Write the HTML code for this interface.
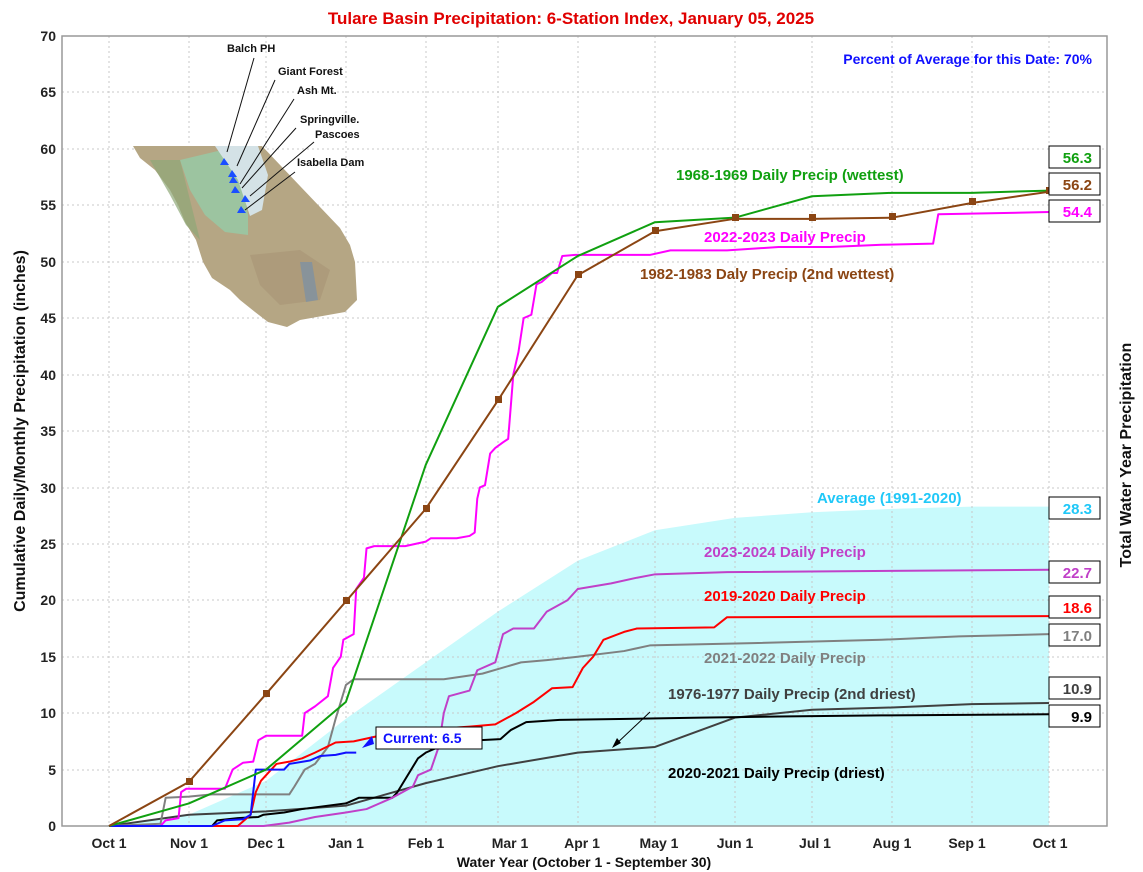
<!DOCTYPE html>
<html><head><meta charset="utf-8"><style>
body{margin:0;background:#fff}
svg{display:block;font-family:"Liberation Sans",Arial,sans-serif;font-weight:bold}
</style></head><body>
<svg width="1143" height="872" viewBox="0 0 1143 872" xmlns="http://www.w3.org/2000/svg">
<rect width="1143" height="872" fill="#fff"/>
<text x="571" y="24" text-anchor="middle" font-size="17" fill="#e00000">Tulare Basin Precipitation: 6-Station Index, January 05, 2025</text>
<g transform="translate(109,826) scale(2.5753,-11.286)">
<polygon fill="#c8fafc" points="0,0 31,1 61,4 92,9.5 123,14.5 151,19 182,23.5 212,26.2 243,27.3 273,27.8 304,28.1 335,28.3 365,28.3 365,0"/>
</g>
<g stroke="#c8c8c8" stroke-dasharray="2,3" stroke-width="1">
<line x1="62" x2="1107" y1="770" y2="770"/><line x1="62" x2="1107" y1="713" y2="713"/><line x1="62" x2="1107" y1="657" y2="657"/><line x1="62" x2="1107" y1="600" y2="600"/><line x1="62" x2="1107" y1="544" y2="544"/><line x1="62" x2="1107" y1="488" y2="488"/><line x1="62" x2="1107" y1="431" y2="431"/><line x1="62" x2="1107" y1="375" y2="375"/><line x1="62" x2="1107" y1="318" y2="318"/><line x1="62" x2="1107" y1="262" y2="262"/><line x1="62" x2="1107" y1="205" y2="205"/><line x1="62" x2="1107" y1="149" y2="149"/><line x1="62" x2="1107" y1="92" y2="92"/>
<line y1="36" y2="826" x1="109" x2="109"/><line y1="36" y2="826" x1="189" x2="189"/><line y1="36" y2="826" x1="266" x2="266"/><line y1="36" y2="826" x1="346" x2="346"/><line y1="36" y2="826" x1="426" x2="426"/><line y1="36" y2="826" x1="498" x2="498"/><line y1="36" y2="826" x1="578" x2="578"/><line y1="36" y2="826" x1="655" x2="655"/><line y1="36" y2="826" x1="735" x2="735"/><line y1="36" y2="826" x1="812" x2="812"/><line y1="36" y2="826" x1="892" x2="892"/><line y1="36" y2="826" x1="972" x2="972"/><line y1="36" y2="826" x1="1049" x2="1049"/>
</g>
<rect x="62" y="36" width="1045" height="790" fill="none" stroke="#999" stroke-width="1.5"/>
<!-- map -->
<g>
<polygon points="133,146 262,146 300,186 340,228 350,245 355,262 357,300 345,312 300,320 287,327 268,322 255,312 240,300 230,290 212,278 203,262 196,240 185,222 178,205 170,190 155,170 140,158" fill="#b5a684"/>
<polygon points="180,160 222,150 240,175 248,215 248,235 225,232 205,215 190,190" fill="#9cc4a0"/>
<polygon points="215,146 258,146 268,175 262,210 250,216 238,180" fill="#d4e2e6"/>
<polygon points="150,160 180,160 190,200 200,240 186,225 170,195" fill="#8fa878" opacity="0.7"/>
<polygon points="250,255 300,250 330,270 320,300 280,305 260,285" fill="#a89474" opacity="0.6"/>
<polygon points="300,262 312,262 318,300 306,302" fill="#7890a8" opacity="0.7"/>
</g>
<g font-size="11" fill="#111">
<text x="227" y="52">Balch PH</text><text x="278" y="75">Giant Forest</text><text x="297" y="94">Ash Mt.</text>
<text x="300" y="123">Springville.</text><text x="315" y="138">Pascoes</text><text x="297" y="166">Isabella Dam</text>
</g>
<g stroke="#111" stroke-width="1">
<line x1="254" y1="58" x2="227" y2="152"/><line x1="275" y1="80" x2="237" y2="166"/><line x1="294" y1="99" x2="240" y2="184"/>
<line x1="296" y1="128" x2="242" y2="188"/><line x1="314" y1="142" x2="250" y2="196"/><line x1="295" y1="172" x2="245" y2="210"/>
</g>
<g fill="#1a4fff">
<polygon points="224,158 220,165 229,165"/><polygon points="232,170 228,177 237,177"/><polygon points="233,176 229,183 238,183"/>
<polygon points="235,186 231,193 240,193"/><polygon points="245,195 241,202 250,202"/><polygon points="241,206 237,213 246,213"/>
</g>
<g transform="translate(109,826) scale(2.5753,-11.286)" fill="none" stroke-width="2" stroke-linejoin="round">
<polyline vector-effect="non-scaling-stroke" stroke="#404040" points="0,0 31,1 61,1.3 92,1.8 123,3.8 151,5.3 182,6.5 212,7 243,9.6 273,10.3 304,10.5 335,10.8 365,10.9"/>
<polyline vector-effect="non-scaling-stroke" stroke="#000" points="0,0 40,0 42,0.5 50,0.7 58,0.8 60,1 68,1.2 75,1.5 85,1.8 92,2 97,2.5 110,2.5 112,3 120,6 123,6.5 128,7 135,7.5 152,7.7 156,8.5 162,9.2 175,9.4 230,9.6 260,9.7 300,9.8 365,9.9"/>
<polyline vector-effect="non-scaling-stroke" stroke="#808080" points="0,0 20,0.2 22,2.5 31,2.6 40,2.8 70,2.8 72,3.5 76,5 80,5.5 85,7 88,9.5 90,11 92,12.5 95,13 130,13 145,13.5 160,14.5 170,14.7 182,15 200,15.5 210,16 250,16.2 300,16.5 330,16.8 365,17"/>
<polyline vector-effect="non-scaling-stroke" stroke="#c040c8" points="0,0 60,0 70,0.3 80,0.8 92,1.2 100,1.5 110,2.5 118,3.5 120,4.5 125,5 128,7 130,10 132,11.5 140,12 143,13.8 150,14.5 153,17 157,17.5 165,17.5 170,19 178,20 182,21 195,21.5 205,22 212,22.3 240,22.5 365,22.7"/>
<polyline vector-effect="non-scaling-stroke" stroke="#ff0000" points="0,0 50,0 55,1 57,3 59,4 61,4.5 65,5.5 70,5.7 75,6 80,6.5 88,7.4 95,7.5 105,8 120,8.5 140,8.8 150,9 158,10 165,11 172,12.2 180,12.3 184,14 188,15 192,16.5 200,17.2 205,17.5 235,17.6 240,18.5 365,18.6"/>
<polyline vector-effect="non-scaling-stroke" stroke="#ff00ff" points="0,0 20,0 22,0.5 27,0.7 28,3 30,3.3 45,3.3 48,5 52,5.6 56,5.7 58,7.6 61,8 75,8 76,10 80,10.6 85,11.5 87,14 90,15 91,16.5 95,17 96,21 99,22 100,24.6 103,24.8 115,24.8 123,25.2 125,25.5 135,25.5 140,25.7 142,26 143,29 144,30 146,30.2 148,33 150,33.5 153,34 155,34.3 157,40 159,42 161,45 164,45.3 166,48 168,48.2 172,49 174,49 176,50.5 181,50.6 210,50.6 218,51 240,51 260,51.3 280,51.3 300,51.5 320,51.6 322,54.2 365,54.4"/>
<polyline vector-effect="non-scaling-stroke" stroke="#1010ff" points="0,0 40,0 45,0.5 52,0.6 55,1 57,5 68,5 70,5.5 78,5.8 82,6.2 88,6.3 92,6.5 96,6.5"/>
<polyline vector-effect="non-scaling-stroke" stroke="#10a010" points="0,0 31,2 61,5 92,11 123,32 151,46 182,50.5 212,53.5 243,53.9 273,55.8 304,56.1 335,56.1 365,56.3"/>
<polyline vector-effect="non-scaling-stroke" stroke="#8b4513" points="0,0 31,3.9 61,11.7 92,19.9 123,28.1 151,37.7 182,48.8 212,52.7 243,53.8 273,53.8 304,53.9 335,55.2 365,56.2"/>
</g>
<g fill="#8b4513">
<rect x="186" y="778" width="7" height="7"/><rect x="263" y="690" width="7" height="7"/><rect x="343" y="597" width="7" height="7"/><rect x="423" y="505" width="7" height="7"/><rect x="495" y="396" width="7" height="7"/><rect x="575" y="271" width="7" height="7"/><rect x="652" y="227" width="7" height="7"/><rect x="732" y="214" width="7" height="7"/><rect x="809" y="214" width="7" height="7"/><rect x="889" y="213" width="7" height="7"/><rect x="969" y="198" width="7" height="7"/><rect x="1046" y="187" width="7" height="7"/>
</g>
<polygon points="362,748 372,736 374,744" fill="#1010ff"/>
<rect x="376" y="727" width="106" height="22" fill="#fff" stroke="#000"/>
<text x="383" y="743" font-size="14" fill="#1010ff">Current: 6.5</text>
<line x1="650" y1="712" x2="614" y2="746" stroke="#000"/><polygon points="612,748 617,738 621,743" fill="#000"/>
<g font-size="15">
<text x="676" y="180" fill="#10a010">1968-1969 Daily Precip (wettest)</text>
<text x="704" y="242" fill="#ff00ff">2022-2023 Daily Precip</text>
<text x="640" y="279" fill="#8b4513">1982-1983 Daly Precip (2nd wettest)</text>
<text x="817" y="503" fill="#20c8f8">Average (1991-2020)</text>
<text x="704" y="557" fill="#c040c8">2023-2024 Daily Precip</text>
<text x="704" y="601" fill="#ff0000">2019-2020 Daily Precip</text>
<text x="704" y="663" fill="#808080">2021-2022 Daily Precip</text>
<text x="668" y="699" fill="#404040">1976-1977 Daily Precip (2nd driest)</text>
<text x="668" y="778" fill="#000">2020-2021 Daily Precip (driest)</text>
</g>
<text x="1092" y="64" text-anchor="end" font-size="14" fill="#1010ff">Percent of Average for this Date: 70%</text>
<g font-size="15">
<rect x="1049" y="146" width="51" height="22" fill="#fff" stroke="#000"/><text x="1092" y="163" text-anchor="end" fill="#10a010">56.3</text>
<rect x="1049" y="173" width="51" height="22" fill="#fff" stroke="#000"/><text x="1092" y="190" text-anchor="end" fill="#8b4513">56.2</text>
<rect x="1049" y="200" width="51" height="22" fill="#fff" stroke="#000"/><text x="1092" y="217" text-anchor="end" fill="#ff00ff">54.4</text>
<rect x="1049" y="497" width="51" height="22" fill="#fff" stroke="#000"/><text x="1092" y="514" text-anchor="end" fill="#20c8f8">28.3</text>
<rect x="1049" y="561" width="51" height="22" fill="#fff" stroke="#000"/><text x="1092" y="578" text-anchor="end" fill="#c040c8">22.7</text>
<rect x="1049" y="596" width="51" height="22" fill="#fff" stroke="#000"/><text x="1092" y="613" text-anchor="end" fill="#ff0000">18.6</text>
<rect x="1049" y="624" width="51" height="22" fill="#fff" stroke="#000"/><text x="1092" y="641" text-anchor="end" fill="#808080">17.0</text>
<rect x="1049" y="677" width="51" height="22" fill="#fff" stroke="#000"/><text x="1092" y="694" text-anchor="end" fill="#404040">10.9</text>
<rect x="1049" y="705" width="51" height="22" fill="#fff" stroke="#000"/><text x="1092" y="722" text-anchor="end" fill="#000">9.9</text>
</g>
<g font-size="14" text-anchor="end" fill="#222">
<text x="56" y="831">0</text><text x="56" y="775">5</text><text x="56" y="718">10</text><text x="56" y="662">15</text><text x="56" y="605">20</text><text x="56" y="549">25</text><text x="56" y="493">30</text><text x="56" y="436">35</text><text x="56" y="380">40</text><text x="56" y="323">45</text><text x="56" y="267">50</text><text x="56" y="210">55</text><text x="56" y="154">60</text><text x="56" y="97">65</text><text x="56" y="41">70</text>
</g>
<g font-size="14" text-anchor="middle" fill="#222">
<text x="109" y="848">Oct 1</text><text x="189" y="848">Nov 1</text><text x="266" y="848">Dec 1</text><text x="346" y="848">Jan 1</text><text x="426" y="848">Feb 1</text><text x="510" y="848">Mar 1</text><text x="582" y="848">Apr 1</text><text x="659" y="848">May 1</text><text x="735" y="848">Jun 1</text><text x="815" y="848">Jul 1</text><text x="892" y="848">Aug 1</text><text x="967" y="848">Sep 1</text><text x="1050" y="848">Oct 1</text>
</g>
<text x="584" y="867" text-anchor="middle" font-size="14" fill="#111">Water Year (October 1 - September 30)</text>
<text transform="translate(25,431) rotate(-90)" text-anchor="middle" font-size="16" fill="#111">Cumulative Daily/Monthly Precipitation (inches)</text>
<text transform="translate(1131,455) rotate(-90)" text-anchor="middle" font-size="16" fill="#111">Total Water Year Precipitation</text>
</svg>
</body></html>
